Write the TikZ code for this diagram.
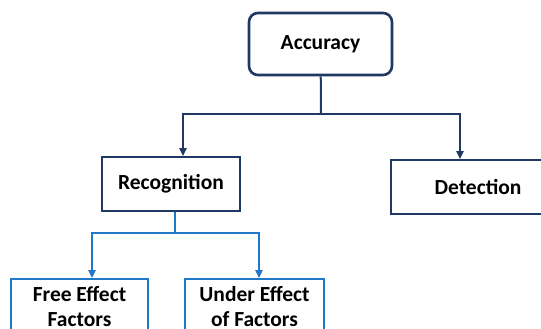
\documentclass[tikz,border=0pt]{standalone}
\usepackage{fontspec}
\setmainfont{Carlito}
\usetikzlibrary{arrows.meta}
\definecolor{navy}{HTML}{203864}
\definecolor{lblue}{HTML}{1F78C8}
\begin{document}
\begin{tikzpicture}
  [x=1pt,y=-1pt,
   every node/.style={draw,fill=white,inner sep=0pt,align=center,
     font=\fontsize{21.5}{25}\selectfont\bfseries},
   topbox/.style={draw=navy,line width=2.6pt,rounded corners=9pt},
   midbox/.style={draw=navy,line width=1.8pt},
   lowbox/.style={draw=lblue,line width=1.8pt},
   navyline/.style={draw=navy,line width=2pt},
   blueline/.style={draw=lblue,line width=2pt},
   tip/.style={-{Triangle[length=8pt,width=7pt]}}]

  \useasboundingbox (0,0) rectangle (541,329);

  \node[topbox,minimum width=143pt,minimum height=62pt] (acc) at (320.5,44) {Accuracy};
  \node[midbox,minimum width=138pt,minimum height=54pt] (rec) at (171,184) {Recognition};
  \node[midbox,minimum width=174pt,minimum height=54pt] (det) at (478,187) {Detection};
  \node[lowbox,minimum width=137pt,minimum height=56pt] (free) at (79.5,307) {Free Effect\\Factors};
  \node[lowbox,minimum width=139pt,minimum height=56pt] (under) at (254.5,307) {Under Effect\\of Factors};

  \coordinate (j1) at (321,114);
  \coordinate (j2) at (175,233);

  \path[navyline]
     (acc) -- (j1);
  \path[navyline,tip]
     (j1) -| ([xshift=12pt]rec.north);
  \path[navyline,tip]
     (j1) -| ([xshift=-18pt]det.north);

  \path[blueline]
     ([xshift=4pt]rec.south) -- (j2);
  \path[blueline,tip]
     (j2) -| ([xshift=12.5pt]free.north);
  \path[blueline,tip]
     (j2) -| ([xshift=4.5pt]under.north);

\end{tikzpicture}
\end{document}
